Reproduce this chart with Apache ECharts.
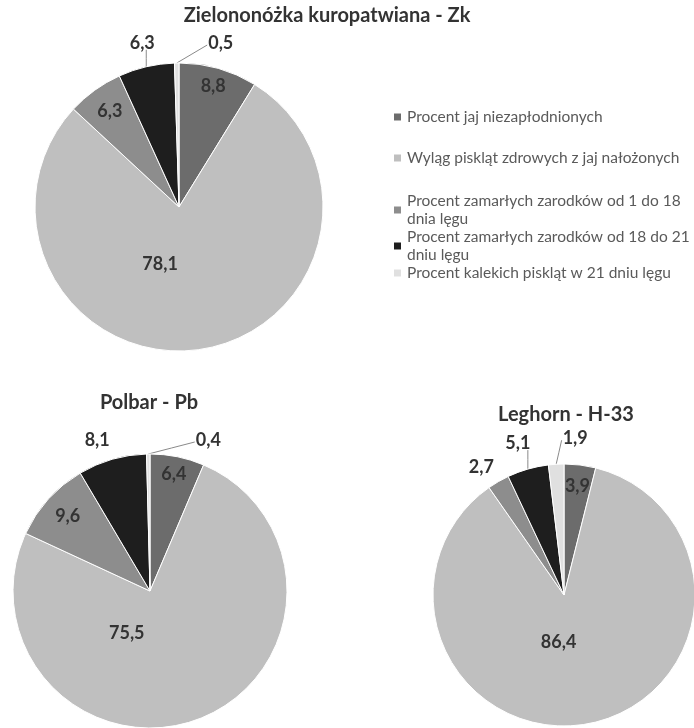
<!DOCTYPE html>
<html><head><meta charset="utf-8">
<script src="https://cdn.jsdelivr.net/npm/echarts@6/dist/echarts.min.js"></script>
<style>html,body{margin:0;padding:0;background:#fff}#c{width:694px;height:728px}</style>
</head><body><div id="c"></div>
<script>
// Categories shared by all three pies
const categories = [
  'Procent jaj niezapłodnionych',
  'Wyląg piskląt zdrowych z jaj nałożonych',
  'Procent zamarłych zarodków od 1 do 18 dnia lęgu',
  'Procent zamarłych zarodków od 18 do 21 dniu lęgu',
  'Procent kalekich piskląt w 21 dniu lęgu'
];
const breeds = ['Zielononóżka kuropatwiana - Zk', 'Polbar - Pb', 'Leghorn - H-33'];
// Percentages per breed
const valuesZk = [8.8, 78.1, 6.3, 6.3, 0.5];
const valuesPb = [6.4, 75.5, 9.6, 8.1, 0.4];
const valuesH33 = [3.9, 86.4, 2.7, 5.1, 1.9];

const colors = ['#6c6c6c', '#bfbfbf', '#8d8d8d', '#1e1e1e', '#e0e0e0'];
const FONT = 'Lato, "Open Sans", sans-serif';

// legend text wrapped over two lines where the label is long
const wrapped = {
  'Procent zamarłych zarodków od 1 do 18 dnia lęgu': 'Procent zamarłych zarodków od 1 do 18\ndnia lęgu',
  'Procent zamarłych zarodków od 18 do 21 dniu lęgu': 'Procent zamarłych zarodków od 18 do 21\ndniu lęgu'
};

// Label placement per slice:
//   inside  -> { r: fraction of radius, turn: degrees added to the mid-angle }
//   outside -> { dx, dy: offset of the label centre from the rim point, line: draw leader }
const placeZk = [{ r: 0.87, turn: 0 }, { r: 0.42, turn: 26 }, { r: 0.82, turn: 0 },
                 { dx: -4, dy: -24, line: true }, { dx: 44, dy: -20, line: true }];
const placePb = [{ r: 0.87, turn: 0 }, { r: 0.35, turn: 50 }, { r: 0.81, turn: 0 },
                 { dx: -15, dy: -19, line: false }, { dx: 60, dy: -14, line: true }];
const placeH33 = [{ r: 0.84, turn: 0 }, { r: 0.36, turn: 17 }, { dx: -17, dy: -14, line: false },
                  { dx: -10, dy: -26, line: true }, { dx: 19, dy: -26, line: true }];

function fmt(v) { return v.toFixed(1).replace('.', ','); }

function pie(values, center, radius, place) {
  const total = values.reduce((a, b) => a + b, 0);
  let acc = 0;
  // mid-angle of every slice, clockwise from 12 o'clock
  const mids = values.map(v => { const m = (acc + v / 2) / total * 2 * Math.PI; acc += v; return m; });

  return {
    type: 'pie',
    center: center,
    radius: radius,
    startAngle: 90,
    clockwise: true,
    avoidLabelOverlap: false,
    silent: true,
    itemStyle: { borderColor: '#ffffff', borderWidth: 1 },
    label: {
      formatter: p => fmt(p.value),
      fontFamily: FONT, fontWeight: 'bold', fontSize: 18, color: '#333333'
    },
    labelLine: { length: 8, length2: 6, lineStyle: { color: '#8a8a8a', width: 1 } },
    labelLayout: function (params) {
      const i = params.dataIndex;
      const p = place[i];
      if (p.r !== undefined) {
        const a = mids[i] + p.turn * Math.PI / 180;
        return {
          x: center[0] + Math.sin(a) * radius * p.r,
          y: center[1] - Math.cos(a) * radius * p.r,
          align: 'center', verticalAlign: 'middle'
        };
      }
      const a = mids[i];
      const ax = center[0] + Math.sin(a) * radius;
      const ay = center[1] - Math.cos(a) * radius;
      const lx = ax + p.dx, ly = ay + p.dy;
      const w = params.labelRect.width, h = params.labelRect.height;
      let ex, ey;
      if (Math.abs(p.dx) > w / 2) {
        ex = p.dx > 0 ? lx - w / 2 - 1 : lx + w / 2 + 1;
        ey = ly + 2;
      } else {
        ex = ax; ey = ly + h / 2 - 2;
      }
      return {
        x: lx, y: ly, align: 'center', verticalAlign: 'middle',
        labelLinePoints: [[ax, ay], [(ax + ex) / 2, (ay + ey) / 2], [ex, ey]]
      };
    },
    data: values.map((v, i) => ({
      name: categories[i],
      value: v,
      itemStyle: { color: colors[i] },
      label: { position: place[i].r !== undefined ? 'inside' : 'outside' },
      labelLine: { show: place[i].r === undefined && place[i].line }
    }))
  };
}

const legendTops = [108, 149, 183, 219, 264];
const legends = categories.map((c, i) => ({
  data: [c],
  orient: 'vertical',
  left: 392,
  top: legendTops[i],
  padding: 0,
  icon: 'rect',
  itemWidth: 9,
  itemHeight: 9,
  itemGap: 0,
  selectedMode: false,
  formatter: n => wrapped[n] || n,
  textStyle: {
    fontFamily: FONT, fontSize: 15.5, color: '#5a5a5a', lineHeight: 18,
    padding: wrapped[c] ? [18, 0, 0, 0] : 0
  }
}));

const titleStyle = { fontFamily: FONT, fontWeight: 'bold', fontSize: 20, color: '#333333' };

const option = {
  animation: false,
  backgroundColor: '#ffffff',
  title: [
    { text: breeds[0], left: 327, top: 6, textAlign: 'center', padding: 0, textStyle: titleStyle },
    { text: breeds[1], left: 149, top: 393, textAlign: 'center', padding: 0, textStyle: titleStyle },
    { text: breeds[2], left: 566, top: 405, textAlign: 'center', padding: 0, textStyle: titleStyle }
  ],
  legend: legends,
  series: [
    pie(valuesZk, [179, 207], 144, placeZk),
    pie(valuesPb, [150, 591], 137, placePb),
    pie(valuesH33, [564, 595], 131, placeH33)
  ]
};

const chart = echarts.init(document.getElementById('c'), null, { renderer: 'canvas' });
chart.setOption(option);
</script>
</body></html>
